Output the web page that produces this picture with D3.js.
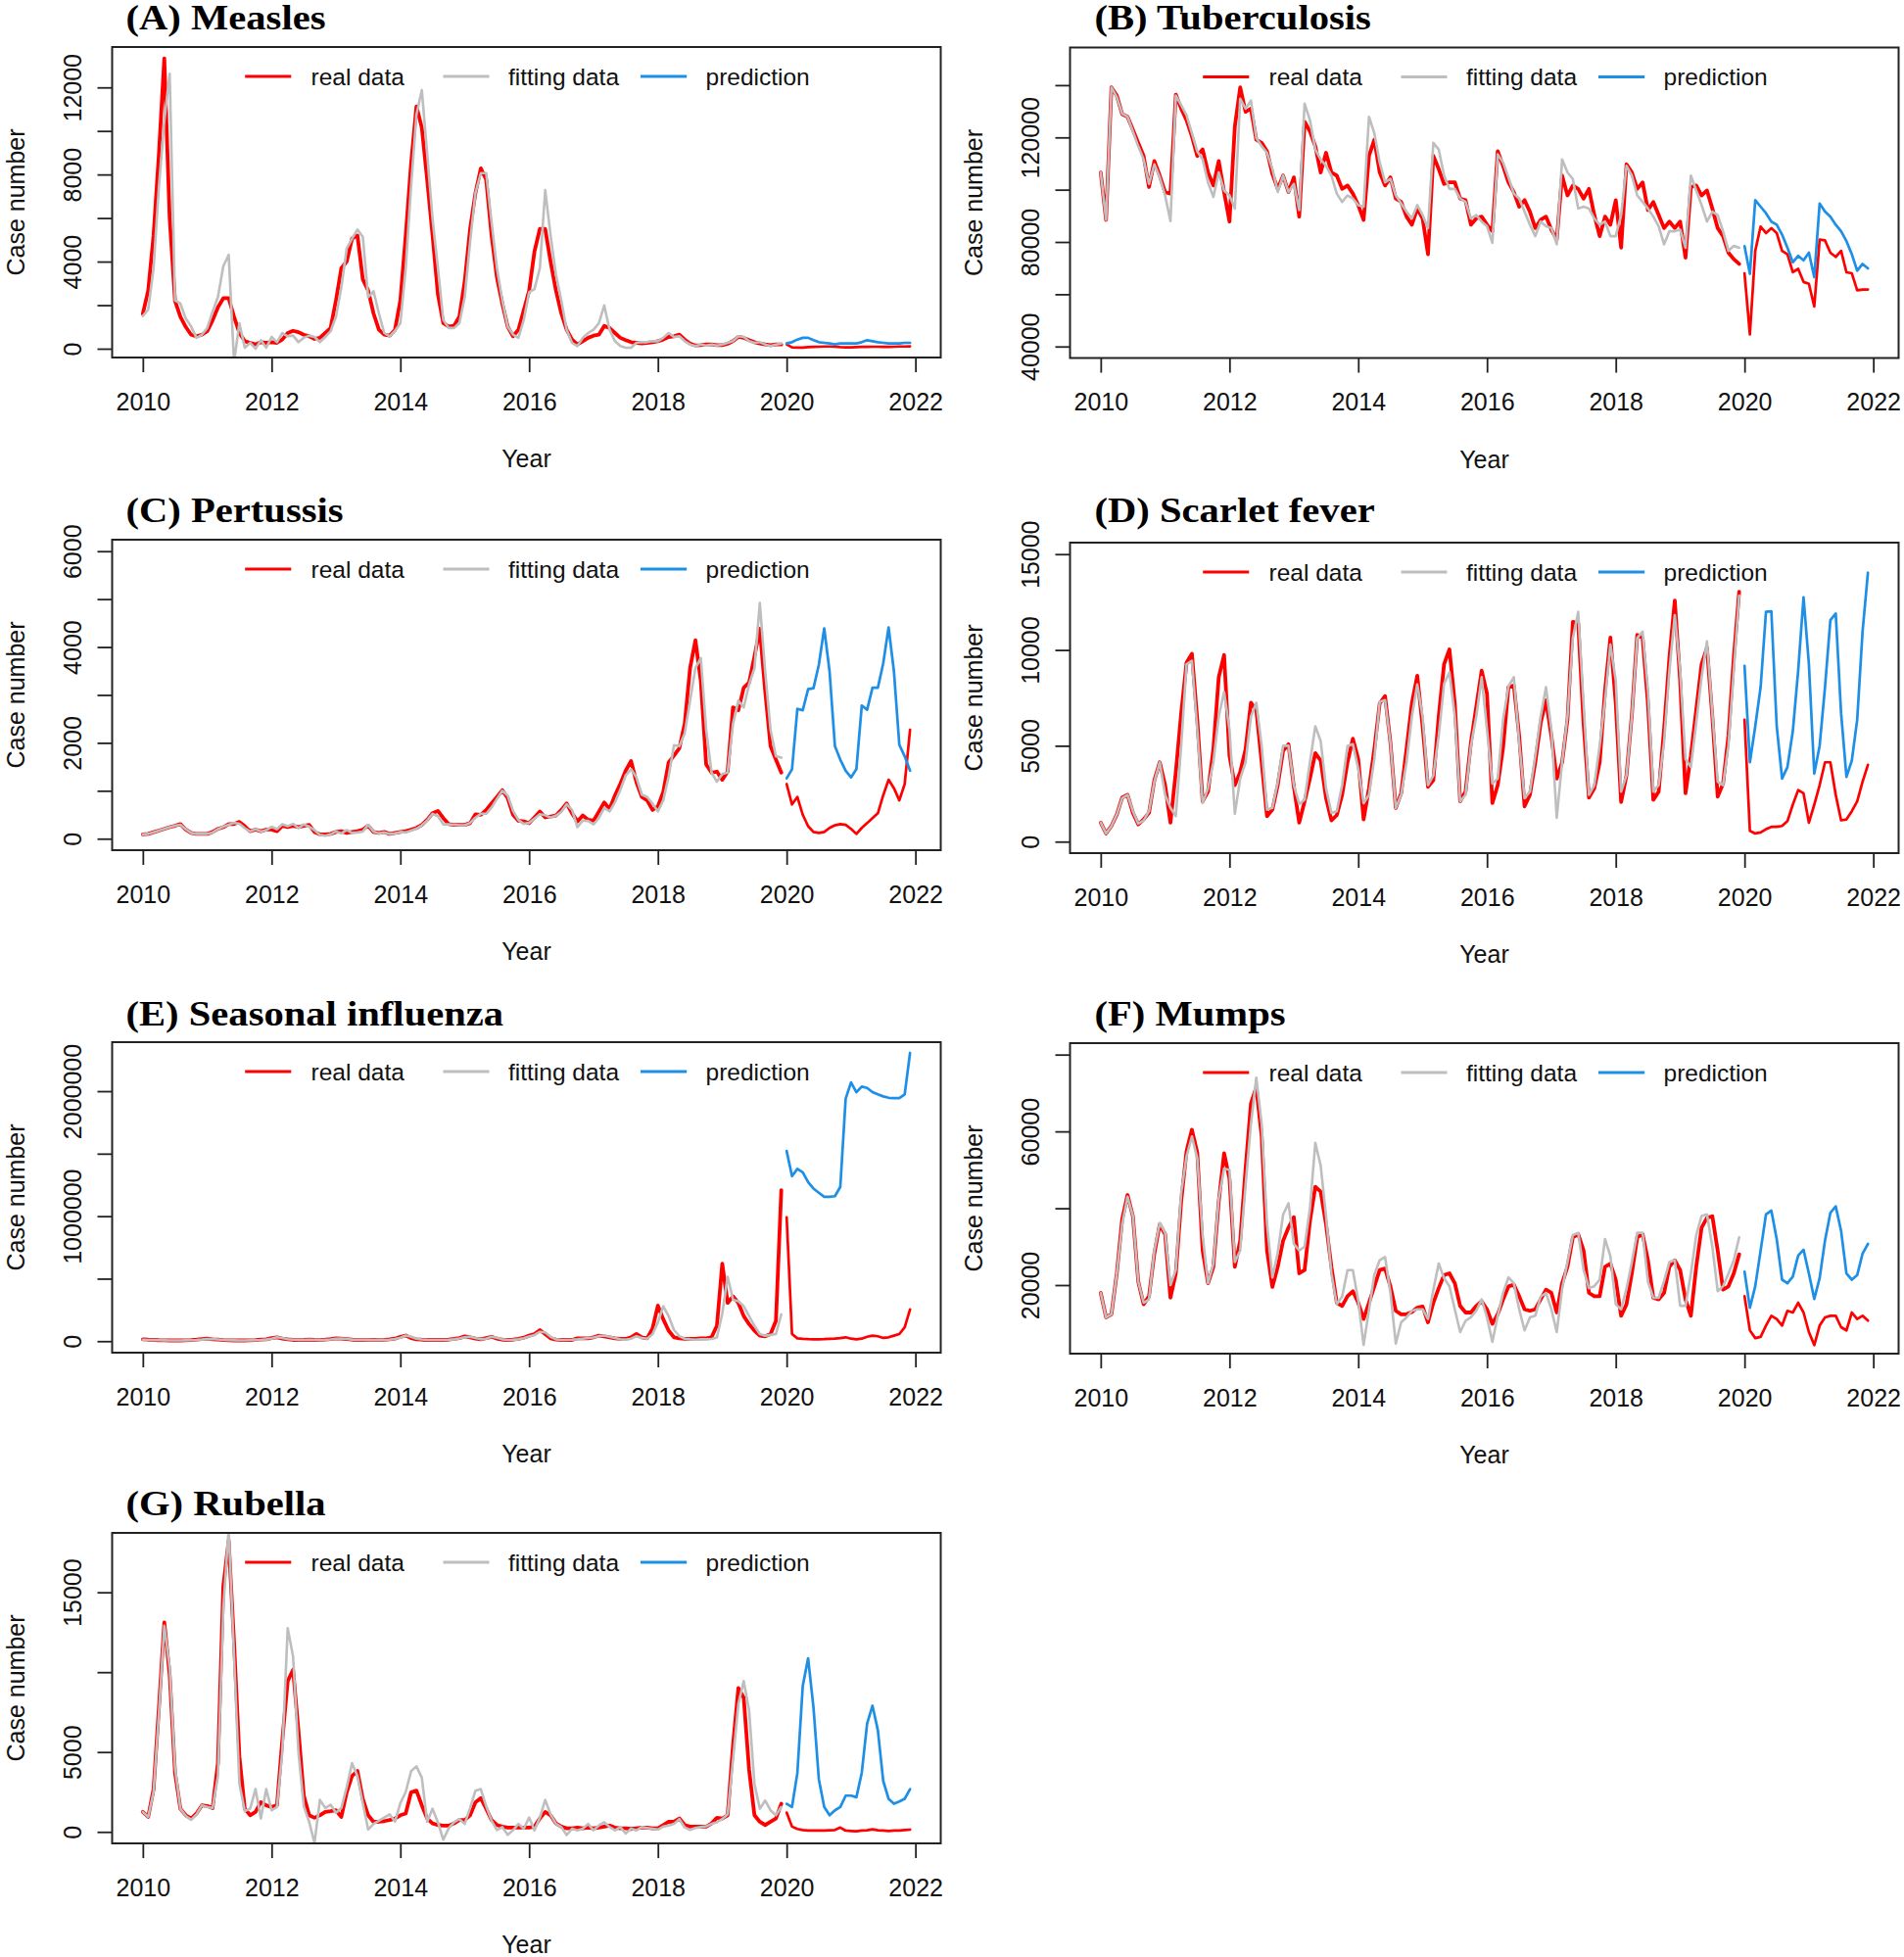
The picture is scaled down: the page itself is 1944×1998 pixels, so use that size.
<!DOCTYPE html>
<html><head><meta charset="utf-8">
<script src="https://cdn.jsdelivr.net/npm/d3@7"></script>
<style>body{margin:0;background:#fff}</style>
</head><body>
<svg id="chart" width="1944" height="1998"></svg>
<script>
// ---------------- DATA ----------------
const startYear = 2010;          // monthly data, Jan 2010 .. Dec 2021
const fitMonths = 120;           // fitting: 2010-2019, prediction: 2020-2021
const xTickValues = [2010, 2012, 2014, 2016, 2018, 2020, 2022];
const legendLabels = ["real data", "fitting data", "prediction"];

const measlesReal = [1600,2670,5200,8960,13330,6000,2200,1470,1000,640,570,640,
 800,1300,1900,2320,2320,1470,720,345,270,195,300,270,
 300,270,420,720,820,760,640,570,450,500,720,950,
 2220,3700,4000,5060,5200,3190,2670,1620,870,645,600,870,
 2220,5200,8500,11130,10150,7760,5200,2500,1170,1020,1050,1470,
 3100,5500,7160,8280,7760,5200,3270,2070,1020,570,870,1770,
 2670,4470,5500,5500,4000,2670,1620,870,420,195,345,500,
 600,645,1050,950,720,500,390,300,270,240,270,300,
 345,420,540,570,645,420,240,150,165,195,195,165,
 165,225,345,540,500,390,300,240,195,165,195,195,
 195,60,50,50,70,80,90,100,100,90,70,60,
 60,70,80,80,90,90,80,80,90,100,100,110];
const measlesFit = [1500,1800,3700,7460,10450,12630,2220,2070,1390,1020,500,640,
 950,1700,2370,3790,4310,-600,1170,45,270,0,390,45,
 540,300,720,570,600,300,500,600,540,300,540,800,
 1470,2820,4610,5060,5470,5140,2370,2640,1620,720,570,820,
 1170,3700,7460,10750,11880,8960,5960,3700,1320,950,950,1170,
 2370,4910,7160,8060,8060,5810,3700,2220,1020,645,500,1320,
 2590,2740,3700,7280,5200,3400,2220,870,270,120,500,720,
 870,1170,1990,870,345,120,45,45,270,300,300,345,
 345,500,720,540,570,345,195,120,195,150,195,150,
 195,270,345,570,540,345,270,300,195,120,195,240];
const measlesPred = [240,300,420,500,500,390,300,270,240,195,240,240,
 240,240,300,390,345,300,270,240,240,240,270,270];

const tbReal = [106600,88450,139150,136000,128900,127900,122900,117900,112900,101000,111000,105400,
 99100,98500,136400,131000,126600,120400,112900,115400,106600,101600,111000,99100,
 87800,124100,139150,129800,131000,119100,117900,114700,106000,100300,105400,99100,
 104700,89700,126000,122300,116600,106600,114100,106600,105400,100300,101600,98500,
 94100,88450,112900,119100,106600,101600,104700,96600,95300,89700,86600,92800,
 89000,75300,112900,107900,102200,102800,102800,96600,96000,86600,89000,89700,
 86600,84100,114700,109100,102800,99100,93500,96000,91600,85300,88450,89700,
 84700,80900,105400,97800,101600,100300,96600,100300,90300,82200,89700,86600,
 96000,77800,109700,106600,100300,102800,92200,95300,90300,85300,87800,85300,
 87800,74000,101000,101600,97800,99700,92800,85300,82200,75900,73400,71600,
 68000,44600,76600,85900,83400,85300,83400,76600,75300,68400,69700,64700,
 64000,55300,80900,80600,75900,74300,76600,68400,68000,61500,61800,61800];
const tbFit = [106600,88450,139150,135400,129100,127900,122300,116600,111600,102200,109700,104700,
 97800,88000,136000,132300,128500,121600,114700,111600,102800,97200,106600,99700,
 97800,92800,134800,131000,134100,119800,116600,114100,107900,99100,105400,99100,
 102200,92200,132900,126600,115400,111600,109100,105400,98500,95300,97800,96600,
 94100,93500,127900,121600,110400,102800,104100,97800,94700,91600,89000,94100,
 90300,85300,117900,115400,105400,100300,100300,96600,95300,89000,90300,87800,
 86000,79700,113500,110400,104700,98500,96600,91600,86600,82200,87800,86000,
 85300,79100,111600,106600,104100,92800,93500,92800,89000,86600,87800,82200,
 82200,90300,109100,105400,97800,95300,92800,89700,86000,79100,84100,84100,
 84700,77800,105400,99700,94100,87800,91600,90300,84100,76600,78500,77800];
const tbPred = [78400,67800,96000,93500,91000,87800,86600,82800,77800,72200,74700,73000,
 75900,66500,94700,91600,89700,86600,84100,80300,75300,69000,71600,69900];

const pertussisReal = [90,100,135,170,205,240,270,305,190,120,100,100,
 100,140,205,240,305,305,350,260,155,190,155,190,
 190,155,270,245,270,245,270,290,140,90,90,100,
 140,155,120,140,155,190,270,140,120,140,100,120,
 140,155,190,225,290,395,530,580,430,305,290,290,
 290,325,510,500,600,735,870,1010,850,500,375,360,
 325,445,565,445,465,485,600,735,530,360,485,395,
 375,565,755,620,905,1145,1420,1620,1180,870,800,600,
 670,975,1590,1735,1890,2400,3560,4140,3290,1550,1380,1400,
 1230,1400,2740,2680,3150,3260,3800,4380,3080,1930,1650,1380,
 1140,715,870,500,260,140,120,140,225,280,305,290,
 205,100,225,325,430,530,905,1230,1055,800,1140,2270];
const pertussisFit = [90,100,135,170,205,240,270,290,200,120,100,100,
 100,130,200,250,290,330,310,220,150,200,150,180,
 250,200,300,260,310,220,300,250,180,80,60,90,
 150,110,180,120,130,150,290,150,110,130,100,110,
 140,130,170,210,280,380,520,470,300,300,290,280,
 280,330,440,520,520,650,830,1000,900,580,390,310,
 330,420,510,490,440,480,560,720,600,240,380,370,
 300,430,640,570,760,1020,1320,1450,1280,920,870,730,
 570,800,1300,1950,1930,2200,2880,3560,3770,2270,1380,1190,
 1350,1380,2400,2880,2740,3220,3560,4920,3490,2270,1720,1690];
const pertussisPred = [1260,1450,2710,2680,3120,3140,3630,4390,3490,1930,1650,1420,
 1280,1450,2780,2690,3150,3150,3660,4410,3490,1960,1720,1420];

const scarletReal = [990,425,820,1415,2300,2440,1500,900,1160,1500,3200,4140,
 2950,990,3630,6700,9340,9800,6360,2100,2610,4825,8580,9735,
 4480,2950,3630,4825,7245,6870,4140,1330,1670,2950,4740,5080,
 2860,990,2100,3290,4620,4230,2270,1110,1380,2440,4140,5370,
 4310,1160,2780,4825,7210,7590,5170,1760,2520,4825,7210,8660,
 6020,2860,3200,6530,9260,10030,7210,2100,2610,5170,7040,8920,
 7720,2010,2950,4910,8060,8150,5510,1840,2440,4140,6190,7380,
 5510,3290,4140,6360,11470,11390,6190,2300,2780,4140,7890,10650,
 7210,2060,3460,6610,10790,10620,7210,2180,2610,5850,9600,12580,
 8400,2520,4480,6870,9260,10110,6530,2350,3030,5510,9600,13040,
 6360,560,425,480,650,770,770,820,1070,1930,2690,2520,
 990,1930,2950,4140,4140,2440,1110,1160,1590,2100,3120,4010];
const scarletFit = [990,425,820,1415,2270,2440,1590,940,1110,1590,3120,4140,
 2440,1760,1330,5000,9260,9430,5850,2010,2780,4140,6530,7810,
 5850,1450,3290,4140,6530,7250,5000,1670,1760,3120,5000,5000,
 2950,1960,2180,4140,6020,5250,2780,1500,1590,2950,5000,5080,
 3800,2010,2440,4310,7300,7380,5170,1760,2440,4140,6530,8200,
 6530,2950,3460,5510,8240,8830,6530,2100,2440,5000,6530,8580,
 5850,3030,3290,6360,8100,8580,5170,2270,2610,4480,6530,8060,
 5850,1240,4140,6530,10620,11990,7210,2440,2950,5000,7380,10280,
 8400,2610,3460,6530,10620,10960,7890,2610,2950,5170,8920,11820,
 8920,4310,3890,6190,8580,10450,6700,3120,2950,5000,8920,12840];
const scarletPred = [9170,4140,6020,8060,11990,12020,6020,3290,3890,5760,8920,12750,
 9260,3550,5000,8060,11560,11900,6700,3380,4230,6360,10960,14030];

const influenzaReal = [15000,12000,10000,8000,7000,6000,6000,6000,7000,9000,12000,16000,
 20000,15000,12000,9000,7000,6000,6000,6000,7000,9000,12000,15000,
 25000,30000,20000,14000,10000,9000,10000,12000,10000,9000,12000,16000,
 22000,20000,16000,12000,10000,9000,9000,10000,9000,10000,14000,20000,
 35000,45000,25000,15000,12000,10000,10000,11000,10000,12000,18000,25000,
 38000,30000,20000,15000,25000,35000,20000,12000,10000,12000,18000,28000,
 44000,57000,89000,57000,23000,13000,10000,10000,10000,23000,23000,23000,
 31000,44000,39000,31000,23000,18000,18000,31000,57000,31000,23000,100000,
 285000,175000,84000,31000,23000,18000,18000,18000,23000,23000,31000,123000,
 620000,306000,358000,306000,201000,136000,84000,44000,39000,57000,162000,1208000,
 991000,57000,23000,18000,16000,15000,15000,16000,18000,20000,25000,31000,
 20000,15000,20000,35000,44000,39000,26000,31000,44000,57000,110000,254000];
const influenzaFit = [12000,10000,9000,8000,7000,6000,6000,6000,7000,8000,10000,13000,
 17000,18000,14000,10000,8000,7000,6000,6000,7000,8000,10000,13000,
 20000,32000,25000,16000,12000,10000,10000,11000,10000,9000,11000,14000,
 20000,22000,18000,13000,11000,10000,9000,9000,9000,9000,12000,18000,
 28000,45000,35000,20000,14000,11000,10000,10000,10000,11000,15000,22000,
 32000,35000,25000,15000,20000,35000,28000,15000,10000,11000,15000,24000,
 38000,50000,75000,70000,35000,15000,10000,10000,12000,15000,20000,25000,
 30000,40000,45000,35000,25000,15000,12000,20000,40000,25000,20000,55000,
 150000,280000,200000,90000,40000,20000,15000,12000,15000,15000,18000,30000,
 220000,515000,332000,319000,280000,201000,123000,57000,44000,50000,57000,214000];
const influenzaPred = [1521000,1320000,1378000,1351000,1273000,1221000,1187000,1155000,1155000,1160000,1234000,1940000,
 2070000,1992000,2036000,2026000,1992000,1974000,1958000,1947000,1945000,1945000,1974000,2306000];

const mumpsReal = [17960,11600,12400,23060,37100,43460,37900,20900,15000,17100,28200,35800,
 33260,16700,23060,41760,54900,60460,54500,29000,20500,24760,41760,54300,
 47700,24760,31560,50260,67260,71500,58760,29000,19500,24760,31560,34960,
 37680,23060,23900,36660,45600,44300,35800,24760,15400,14560,17100,18400,
 15400,11160,15400,19660,23900,24300,19660,13300,12400,12400,13000,14130,
 14400,10300,15400,19200,22600,23060,20500,14560,12860,12860,14560,15800,
 13700,9900,12400,16260,19660,20100,17100,13700,13300,13700,16260,18800,
 17960,12860,20500,24760,32400,33260,29000,17960,17100,17100,24760,25600,
 21360,12000,15000,23060,32400,33260,26460,16700,16260,17960,24760,26460,
 23900,16260,12000,24760,34960,37500,37900,29000,18800,19660,23060,28000,
 17100,8200,6200,6500,9460,12000,11160,9460,13300,12860,15400,12860,
 7760,4360,9460,11600,12000,12000,9040,8200,12860,11160,12000,10730];
const mumpsFit = [17960,11600,12400,23060,35800,43000,38000,20900,15400,16260,29000,36200,
 33600,20000,24000,44000,53500,58700,53000,33000,20500,25600,42600,50300,
 50000,26000,29000,46000,62000,74000,62000,36000,22000,28500,38360,41300,
 30700,29000,30000,40000,57000,51100,38000,23000,15000,17000,23900,23900,
 16000,4400,13500,22700,26500,27300,18000,4800,10300,11600,13300,13700,
 13700,11200,18800,25600,21800,19700,13700,7760,10700,11600,13300,16300,
 11600,5200,12000,18000,22000,20500,13700,8200,11600,12000,17000,17960,
 13700,7760,19000,26000,33000,33600,24000,19200,19700,21400,32000,27500,
 15000,13700,19000,26000,33600,33600,20900,16700,16700,21000,26000,26500,
 14600,14600,23000,33000,38000,38400,30000,18400,19700,23000,26500,32400];
const mumpsPred = [23500,14100,19700,29000,38400,39400,32000,21400,20500,22200,27700,29200,
 23000,16400,21800,31600,38800,40500,34100,23000,21400,22600,28200,30700];

const rubellaReal = [1250,940,2680,7800,13120,9850,3700,1450,1040,840,1150,1660,
 1620,1490,4320,15370,18240,11890,4730,1450,1040,1250,1860,1660,
 1560,1660,5750,9440,10150,6370,2270,1040,880,1040,1250,1290,
 1350,940,2480,3500,3810,2070,1040,630,630,675,740,840,
 1040,1150,2480,2580,1660,840,530,430,390,390,530,740,
 740,1040,1860,2110,1450,740,430,330,270,270,270,270,
 270,330,840,1250,1040,530,330,225,225,270,225,270,
 225,270,330,390,270,225,225,185,225,270,270,225,
 225,430,630,630,840,430,330,330,330,330,530,880,
 840,1040,5400,9000,8400,3900,1040,630,430,630,840,1760,
 1210,330,185,120,80,80,80,80,100,120,270,80,
 60,40,80,100,165,100,80,60,80,80,120,140];
const rubellaFit = [1250,940,2500,7400,12900,10300,4000,1450,1000,760,1100,1660,
 1560,1490,3500,14000,19000,11000,3000,1300,1450,2680,840,2680,
 1350,1560,5000,12750,11000,5000,1600,630,-700,2000,1500,1700,
 1200,1500,2800,4300,3500,1800,150,500,700,900,1100,650,
 1800,2500,3800,4100,3400,630,1450,600,-490,225,600,800,
 500,1500,2580,2680,1600,700,120,300,-185,100,500,200,
 900,100,900,2000,1100,500,300,-200,200,100,200,500,
 100,400,600,300,100,300,-100,200,100,300,250,200,
 150,330,400,500,800,280,120,250,300,350,500,600,
 800,1100,4500,8000,9440,7600,3000,1450,1960,1350,1040,1560];
const rubellaPred = [1760,1560,3700,9130,10870,7800,3300,1560,1040,1350,1560,2270,
 2270,2170,3700,6780,7900,6370,3190,2070,1760,1900,2070,2680];

// ---------------- PANELS ----------------
const panels = [
  {title:"(A) Measles", real:measlesReal, fit:measlesFit, pred:measlesPred, col:0, top:48, titleY:30,
   yDomain:[-405,13855], yTicks:d3.range(0,12001,2000), yLabels:[0,4000,8000,12000]},
  {title:"(B) Tuberculosis", real:tbReal, fit:tbFit, pred:tbPred, col:1, top:48.5, titleY:30,
   yDomain:[35600,154400], yTicks:d3.range(40000,140001,20000), yLabels:[40000,80000,120000]},
  {title:"(C) Pertussis", real:pertussisReal, fit:pertussisFit, pred:pertussisPred, col:0, top:551, titleY:533,
   yDomain:[-240,6240], yTicks:d3.range(0,6001,1000), yLabels:[0,2000,4000,6000]},
  {title:"(D) Scarlet fever", real:scarletReal, fit:scarletFit, pred:scarletPred, col:1, top:554, titleY:533,
   yDomain:[-600,15600], yTicks:[0,5000,10000,15000], yLabels:[0,5000,10000,15000]},
  {title:"(E) Seasonal influenza", real:influenzaReal, fit:influenzaFit, pred:influenzaPred, col:0, top:1064, titleY:1047,
   yDomain:[-92000,2392000], yTicks:d3.range(0,2000001,500000), yLabels:[0,1000000,2000000]},
  {title:"(F) Mumps", real:mumpsReal, fit:mumpsFit, pred:mumpsPred, col:1, top:1065, titleY:1047,
   yDomain:[2150,82980], yTicks:[20000,40000,60000,80000], yLabels:[20000,60000]},
  {title:"(G) Rubella", real:rubellaReal, fit:rubellaFit, pred:rubellaPred, col:0, top:1565, titleY:1547,
   yDomain:[-720,18720], yTicks:[0,5000,10000,15000], yLabels:[0,5000,15000]}
];

const colLeft = [114.5, 1092.5];
const W = 846, H = 317;
const RED = "#ff0000", GRAY = "#bebebe", BLUE = "#1e8fe6";
const SANS = "'Liberation Sans', Arial, Helvetica, sans-serif";
const SERIF = "'Liberation Serif', 'Times New Roman', serif";

const svg = d3.select("#chart");
svg.append("rect").attr("width",1944).attr("height",1998).attr("fill","#fff");

const n = measlesReal.length;
const tOf = i => startYear + i/12;
const tMax = tOf(n-1);
const pad = 0.04*(tMax-startYear);

panels.forEach((p, k) => {
  const left = colLeft[p.col], top = p.top, bottom = top + H, right = left + W;
  const x = d3.scaleLinear().domain([startYear - pad, tMax + pad]).range([left, right]);
  const y = d3.scaleLinear().domain(p.yDomain).range([bottom, top]);
  const g = svg.append("g");

  const clipId = "clip"+k;
  g.append("clipPath").attr("id", clipId).append("rect")
    .attr("x", left).attr("y", top).attr("width", W).attr("height", H);

  const line = d3.line().x(d => x(d.t)).y(d => y(d.v));
  const toPts = (arr, offset) => arr.map((v,i) => ({t: tOf(i+offset), v}));
  const lines = g.append("g").attr("clip-path", `url(#${clipId})`)
    .attr("fill","none").attr("stroke-linejoin","round").attr("stroke-linecap","round");

  lines.append("path").attr("d", line(toPts(p.real.slice(0, fitMonths), 0)))
    .attr("stroke", RED).attr("stroke-width", 3.8);
  lines.append("path").attr("d", line(toPts(p.real.slice(fitMonths), fitMonths)))
    .attr("stroke", RED).attr("stroke-width", 2.7);
  lines.append("path").attr("d", line(toPts(p.fit, 0)))
    .attr("stroke", GRAY).attr("stroke-width", 2.6);
  lines.append("path").attr("d", line(toPts(p.pred, fitMonths)))
    .attr("stroke", BLUE).attr("stroke-width", 2.7);

  // box
  g.append("rect").attr("x", left).attr("y", top).attr("width", W).attr("height", H)
    .attr("fill","none").attr("stroke","#222").attr("stroke-width",2);

  // x axis
  const xa = g.append("g").attr("transform", `translate(0,${bottom})`)
    .call(d3.axisBottom(x).tickValues(xTickValues).tickSize(15).tickPadding(21).tickFormat(d3.format("d")));
  xa.select(".domain").remove();
  xa.selectAll(".tick line").attr("stroke","#222").attr("stroke-width",1.8);
  xa.selectAll(".tick text").attr("font-family", SANS).attr("font-size", 25).attr("fill","#111");

  // y axis
  const ya = g.append("g").attr("transform", `translate(${left},0)`)
    .call(d3.axisLeft(y).tickValues(p.yTicks).tickSize(15).tickFormat(d => p.yLabels.includes(d) ? String(d) : ""));
  ya.select(".domain").remove();
  ya.selectAll(".tick line").attr("stroke","#222").attr("stroke-width",1.8);
  ya.selectAll(".tick text")
    .attr("x", null).attr("dy", null)
    .attr("text-anchor","middle")
    .attr("transform","translate(-32,0) rotate(-90)")
    .attr("font-family", SANS).attr("font-size", 25).attr("fill","#111");

  // axis titles
  g.append("text").attr("x", (left+right)/2).attr("y", bottom + 112)
    .attr("text-anchor","middle").attr("font-family", SANS).attr("font-size", 25).attr("fill","#111")
    .text("Year");
  g.append("text").attr("transform", `translate(${left-90},${(top+bottom)/2}) rotate(-90)`)
    .attr("text-anchor","middle").attr("font-family", SANS).attr("font-size", 25).attr("fill","#111")
    .text("Case number");

  // title
  const tx = left + (p.col === 0 ? 14 : 25);
  g.append("text").attr("transform", `translate(${tx},${p.titleY}) scale(1.16,1)`)
    .attr("font-family", SERIF).attr("font-weight","bold").attr("font-size", 35).attr("fill","#000")
    .text(p.title);

  // legend
  const ly = top + 30;
  const lcols = [RED, GRAY, BLUE];
  const segX = [[135.7,182.8],[338,385],[539.5,586.7]];
  const txtX = [203, 404.5, 606];
  legendLabels.forEach((lab, j) => {
    g.append("line").attr("x1", left+segX[j][0]).attr("x2", left+segX[j][1])
      .attr("y1", ly).attr("y2", ly).attr("stroke", lcols[j]).attr("stroke-width", 3);
    g.append("text").attr("x", left+txtX[j]).attr("y", ly + 8.5)
      .attr("font-family", SANS).attr("font-size", 24.5).attr("fill","#111").text(lab);
  });
});
</script>
</body></html>
